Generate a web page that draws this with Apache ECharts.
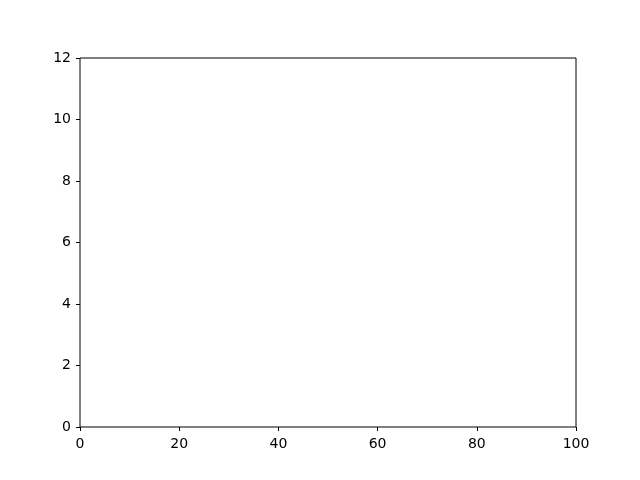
<!DOCTYPE html>
<html>
<head>
<meta charset="utf-8">
<script src="https://cdn.jsdelivr.net/npm/echarts@6/dist/echarts.min.js"></script>
<style>html,body{margin:0;padding:0;background:#fff}#c{width:640px;height:480px}</style>
</head>
<body>
<div id="c"></div>
<script>
const xRange = [0, 100];
const xStep = 20;
const yRange = [0, 12];
const yStep = 2;
const points = [];

const chart = echarts.init(document.getElementById('c'), null, {renderer: 'canvas'});
const axisCommon = {
  type: 'value',
  axisLine: {show: false},
  axisTick: {show: true, inside: false, length: 4, lineStyle: {color: '#000', width: 1}},
  axisLabel: {color: '#000', fontFamily: 'DejaVu Sans', fontSize: 14},
  splitLine: {show: false}
};
chart.setOption({
  animation: false,
  backgroundColor: '#fff',
  grid: {left: 80, right: 64, top: 58, bottom: 53, show: true, borderColor: '#000', borderWidth: 1, backgroundColor: 'transparent'},
  xAxis: Object.assign({}, axisCommon, {min: xRange[0], max: xRange[1], interval: xStep,
    axisLabel: Object.assign({}, axisCommon.axisLabel, {margin: 10})}),
  yAxis: Object.assign({}, axisCommon, {min: yRange[0], max: yRange[1], interval: yStep,
    axisLabel: Object.assign({}, axisCommon.axisLabel, {margin: 9})}),
  series: [{type: 'scatter', data: points}]
});
</script>
</body>
</html>
